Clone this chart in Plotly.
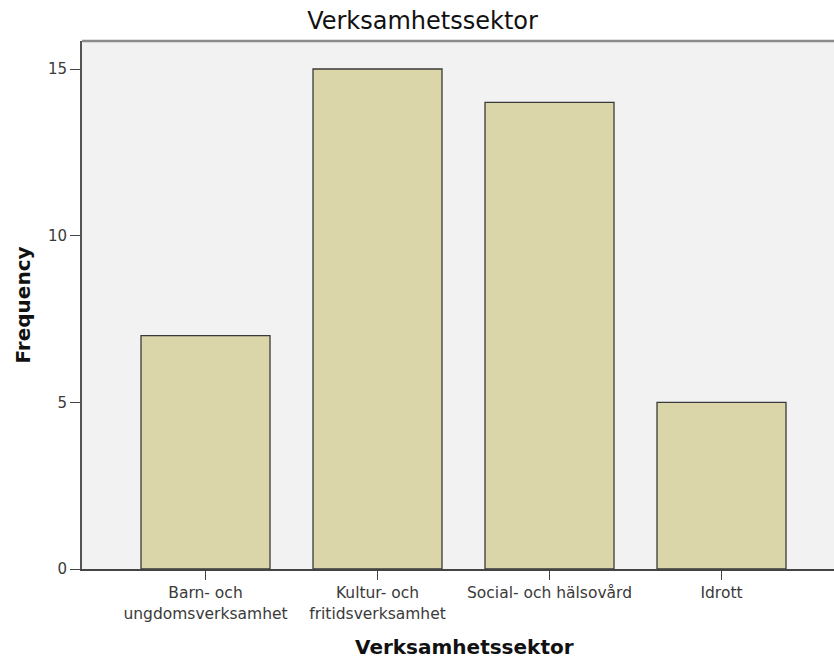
import plotly.graph_objects as go

categories = ["Barn- och<br>ungdomsverksamhet", "Kultur- och<br>fritidsverksamhet", "Social- och hälsovård", "Idrott"]
frequency = [7, 15, 14, 5]
y_ticks = [0, 5, 10, 15]

FONT = "DejaVu Sans, Verdana, sans-serif"

fig = go.Figure(go.Bar(
    x=list(range(len(categories))),
    y=frequency,
    width=0.75,
    marker=dict(color="#dbd6a9", line=dict(color="#3a3a3a", width=1.3)),
))

fig.update_layout(
    width=834, height=659,
    margin=dict(l=82, r=0, t=41, b=90),
    paper_bgcolor="white",
    plot_bgcolor="#f2f2f2",
    showlegend=False,
    title=dict(text="Verksamhetssektor", x=0.5066, xanchor="center", y=0.968, yanchor="middle",
               font=dict(family=FONT, size=24, color="#111")),
    font=dict(family=FONT, color="#333"),
    annotations=[dict(text="<b>Verksamhetssektor</b>", xref="paper", yref="paper",
                      x=0.508, y=-0.1477, xanchor="center", yanchor="middle",
                      showarrow=False, font=dict(family=FONT, size=20, color="#111"))],
    shapes=[dict(type="line", xref="paper", yref="paper", x0=0, x1=1, y0=1, y1=1,
                 line=dict(color="#8c8c8c", width=2.5))],
)
fig.update_xaxes(
    range=[-0.718, 3.654],
    tickmode="array", tickvals=list(range(len(categories))), ticktext=categories,
    ticks="outside", ticklen=9, tickcolor="#444", tickwidth=1.2,
    tickfont=dict(family=FONT, size=15.5, color="#3a3a3a"),
    showline=True, linecolor="#444", linewidth=1.5, mirror=False,
    showgrid=False, zeroline=False,
)
fig.update_yaxes(
    range=[0, 15.84],
    tickmode="array", tickvals=y_ticks,
    ticks="outside", ticklen=10, tickcolor="#444", tickwidth=1.2,
    tickfont=dict(family=FONT, size=15, color="#3a3a3a"),
    showline=True, linecolor="#555", linewidth=2, mirror=False,
    showgrid=False, zeroline=False,
    title=dict(text="<b>Frequency</b>", font=dict(family=FONT, size=20, color="#111"), standoff=12),
)

fig.write_html("out.html", config={"displayModeBar": False},
               post_script="document.body.style.margin='0';")
